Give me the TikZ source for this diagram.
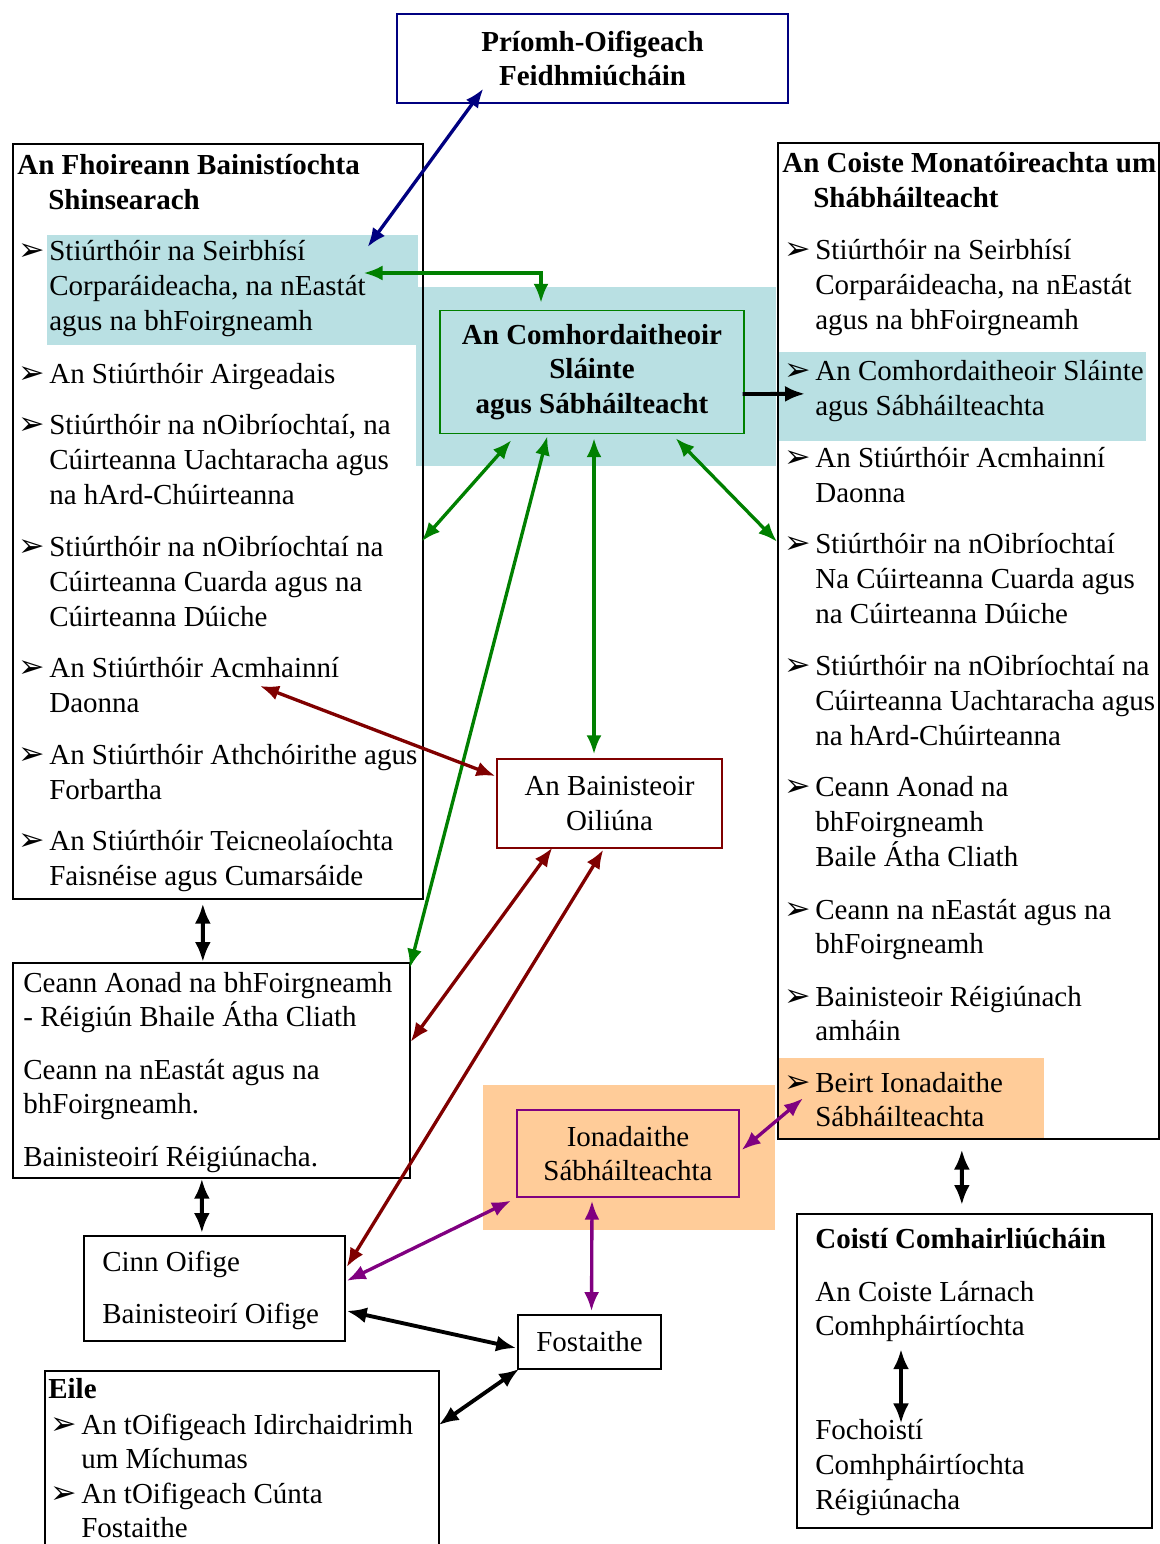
\documentclass[tikz,border=0pt]{standalone}
\usepackage{fontspec}
\setmainfont{Liberation Serif}
\newfontfamily\symb{DejaVu Sans}
\usetikzlibrary{arrows.meta}

\definecolor{hlblue}{RGB}{185,224,227}
\definecolor{hlorange}{RGB}{255,204,153}
\definecolor{cgreen}{RGB}{0,128,0}
\definecolor{cred}{RGB}{128,0,0}
\definecolor{cpurple}{RGB}{128,0,128}
\definecolor{cnavy}{RGB}{0,0,128}

\newcommand{\fs}{\fontsize{16.5}{19.7}\selectfont}
\newcommand{\bul}{\makebox[0.62cm][l]{\symb\fontsize{18}{18}\selectfont ➢}}
\newcommand{\ind}{\hspace*{0.62cm}}

\tikzset{
  frame/.style={draw, line width=1pt, inner sep=0pt},
  cframe/.style={draw, line width=0.8pt, inner sep=0pt, align=center},
  hl/.style={inner sep=0pt, anchor=north west},
  txt/.style={anchor=base west, align=left, inner sep=0pt},
  link/.style={line width=1.9pt, {Latex[length=3.8mm,width=3mm]}-{Latex[length=3.8mm,width=3mm]}},
  blink/.style={line width=2.2pt, {Latex[length=4mm,width=3.2mm]}-{Latex[length=4mm,width=3.2mm]}},
}

\begin{document}
\begin{tikzpicture}[x=0.02cm, y=-0.02cm, font=\fs]
  \useasboundingbox (0,0) rectangle (1159,1544);

  % highlights
  \node[hl, fill=hlblue, minimum width=7.42cm, minimum height=2.2cm] (hlSmt) at (47,235) {};
  \node[hl, fill=hlblue, minimum width=7.2cm, minimum height=3.58cm] (hlMid) at (416,287) {};
  \node[hl, fill=hlblue, minimum width=7.38cm, minimum height=1.78cm] (hlCmon) at (777,352) {};
  \node[hl, fill=hlorange, minimum width=5.34cm, minimum height=1.6cm] (hlBeirt) at (777,1058) {};
  \node[hl, fill=hlorange, minimum width=5.84cm, minimum height=2.9cm] (hlIon) at (483,1085) {};

  % boxes
  \node[cframe, draw=cnavy, font=\fs\bfseries, minimum width=7.82cm, minimum height=1.78cm] (ceo) at (592.5,58.5) {Príomh-Oifigeach\\Feidhmiúcháin};
  \node[frame, anchor=north west, minimum width=8.2cm, minimum height=15.1cm] (smt) at (12,143) {};
  \node[frame, anchor=north west, minimum width=7.62cm, minimum height=19.92cm] (cmon) at (777,142) {};
  \node[cframe, draw=cgreen, font=\fs\bfseries, minimum width=6.08cm, minimum height=2.46cm] (chsa) at (592,372) {An Comhordaitheoir\\Sláinte\\agus Sábháilteacht};
  \node[cframe, draw=cred, minimum width=4.5cm, minimum height=1.78cm] (oil) at (609.5,803.5) {An Bainisteoir\\Oiliúna};
  \node[frame, anchor=north west, minimum width=7.94cm, minimum height=4.3cm] (ceann) at (12,962) {};
  \node[cframe, draw=cpurple, minimum width=4.44cm, minimum height=1.74cm] (ion) at (628,1153.5) {Ionadaithe\\Sábháilteachta};
  \node[frame, anchor=north west, minimum width=5.22cm, minimum height=2.1cm] (cinn) at (83,1235) {};
  \node[frame, minimum width=2.86cm, minimum height=1.08cm] (fost) at (589.5,1342) {Fostaithe};
  \node[frame, anchor=north west, minimum width=7.88cm, minimum height=3.9cm] (eile) at (44,1370) {};
  \node[frame, anchor=north west, minimum width=7.1cm, minimum height=6.28cm] (coisti) at (796,1213) {};

  % An Fhoireann Bainistiochta Shinsearach
  \node[txt, font=\fs\bfseries] (smtT) at (17,209.6) {An Fhoireann Bainistíochta\\\ind Shinsearach};
  \node[txt] (smt1) at (18,330.2) {\bul Stiúrthóir na Seirbhísí\\\ind Corparáideacha, na nEastát\\\ind agus na bhFoirgneamh};
  \node[txt] (smt2) at (18,383) {\bul An Stiúrthóir Airgeadais};
  \node[txt] (smt3) at (18,504.2) {\bul Stiúrthóir na nOibríochtaí, na\\\ind Cúirteanna Uachtaracha agus\\\ind na hArd-Chúirteanna};
  \node[txt] (smt4) at (18,626.2) {\bul Stiúrthóir na nOibríochtaí na\\\ind Cúirteanna Cuarda agus na\\\ind Cúirteanna Dúiche};
  \node[txt] (smt5) at (18,712.6) {\bul An Stiúrthóir Acmhainní\\\ind Daonna};
  \node[txt] (smt6) at (18,799.6) {\bul An Stiúrthóir Athchóirithe agus\\\ind Forbartha};
  \node[txt] (smt7) at (18,885.6) {\bul An Stiúrthóir Teicneolaíochta\\\ind Faisnéise agus Cumarsáide};

  % An Coiste Monatoireachta
  \node[txt, font=\fs\bfseries] (cmonT) at (782,207.6) {An Coiste Monatóireachta um\\\ind Shábháilteacht};
  \node[txt] (cmon1) at (784,329.2) {\bul Stiúrthóir na Seirbhísí\\\ind Corparáideacha, na nEastát\\\ind agus na bhFoirgneamh};
  \node[txt] (cmon2) at (784,415.6) {\bul An Comhordaitheoir Sláinte\\\ind agus Sábháilteachta};
  \node[txt] (cmon3) at (784,502.6) {\bul An Stiúrthóir Acmhainní\\\ind Daonna};
  \node[txt] (cmon4) at (784,623.2) {\bul Stiúrthóir na nOibríochtaí\\\ind Na Cúirteanna Cuarda agus\\\ind na Cúirteanna Dúiche};
  \node[txt] (cmon5) at (784,745.2) {\bul Stiúrthóir na nOibríochtaí na\\\ind Cúirteanna Uachtaracha agus\\\ind na hArd-Chúirteanna};
  \node[txt] (cmon6) at (784,866.2) {\bul Ceann Aonad na\\\ind bhFoirgneamh\\\ind Baile Átha Cliath};
  \node[txt] (cmon7) at (784,953.6) {\bul Ceann na nEastát agus na\\\ind bhFoirgneamh};
  \node[txt] (cmon8) at (784,1040.6) {\bul Bainisteoir Réigiúnach\\\ind amháin};
  \node[txt] (cmon9) at (784,1126.6) {\bul Beirt Ionadaithe\\\ind Sábháilteachta};

  % lower boxes
  \node[txt] (ceann1) at (23,1026.6) {Ceann Aonad na bhFoirgneamh\\- Réigiún Bhaile Átha Cliath};
  \node[txt] (ceann2) at (23,1113.6) {Ceann na nEastát agus na\\bhFoirgneamh.};
  \node[txt] (ceann3) at (23,1166) {Bainisteoirí Réigiúnacha.};
  \node[txt] (cinn1) at (102,1271) {Cinn Oifige};
  \node[txt] (cinn2) at (102,1323) {Bainisteoirí Oifige};
  \node[txt, font=\fs\bfseries] (eileT) at (48,1398) {Eile};
  \node[txt] (eile1) at (50,1468.6) {\bul An tOifigeach Idirchaidrimh\\\ind um Míchumas};
  \node[txt] (eile2) at (50,1537.6) {\bul An tOifigeach Cúnta\\\ind Fostaithe};
  \node[txt, font=\fs\bfseries] (coistiT) at (815,1248) {Coistí Comhairliúcháin};
  \node[txt] (coisti1) at (815,1335.6) {An Coiste Lárnach\\Comhpháirtíochta};
  \node[txt] (coisti2) at (815,1509.2) {Fochoistí\\Comhpháirtíochta\\Réigiúnacha};

  % connectors
  \draw[link, cnavy] ([shift={(-51,12)}]hlSmt.north east) -- ([shift={(87,-15)}]ceo.south west);
  \draw[link, cgreen] ([shift={(-55,38)}]hlSmt.north east) -| ([shift={(-51,-7)}]chsa.north);
  \draw[line width=2.2pt, -{Latex[length=4mm,width=3.2mm]}] ([shift={(-2,22)}]chsa.east) -- ([shift={(28,-3)}]hlCmon.west);
  \draw[link, cgreen] ([shift={(-2,20)}]smt.east) -- ([shift={(72,6)}]chsa.south west);
  \draw[link, cgreen] ([shift={(-1,6)}]ceann.north east) -- ([shift={(108,2)}]chsa.south west);
  \draw[link, cgreen] ([shift={(2,4)}]chsa.south) -- ([shift={(-15.5,-4)}]oil.north);
  \draw[link, cgreen] ([shift={(-69,4)}]chsa.south east) -- ([shift={(0,-99)}]cmon.west);
  \draw[link, cred] ([shift={(242,-26.6)}]smt5.base west) -- ([shift={(-1,-27.5)}]oil.west);
  \draw[link, cred] ([shift={(56,-1)}]oil.south west) -- ([shift={(0,-28.5)}]ceann.east);
  \draw[link, cred] ([shift={(107,1)}]oil.south west) -- ([shift={(1,32)}]cinn.north east);
  \draw[link, cpurple] ([shift={(26,0)}]hlBeirt.west) -- ([shift={(2,-3.5)}]ion.east);
  \draw[link, cpurple] ([shift={(28,-30)}]hlIon.south west) -- ([shift={(1,-7.5)}]cinn.east);
  \draw[link, cpurple] ([shift={(-36,3)}]ion.south) -- ([shift={(2,-3)}]fost.north);
  \draw[blink] ([shift={(-15,4)}]smt.south) -- ([shift={(-8.5,0)}]ceann.north);
  \draw[blink] ([shift={(-9.5,0)}]ceann.south) -- ([shift={(-12.5,-2)}]cinn.north);
  \draw[blink] ([shift={(1,22.5)}]cinn.east) -- ([shift={(-1,6)}]fost.west);
  \draw[blink] ([shift={(-1,55)}]eile.north east) -- ([shift={(2,-1)}]fost.south west);
  \draw[blink] ([shift={(-6.5,10)}]cmon.south) -- ([shift={(-12.5,-8)}]coisti.north);
  \draw[blink] ([shift={(86,7)}]coisti1.south west) -- ([shift={(86,4)}]coisti2.north west);
\end{tikzpicture}
\end{document}
